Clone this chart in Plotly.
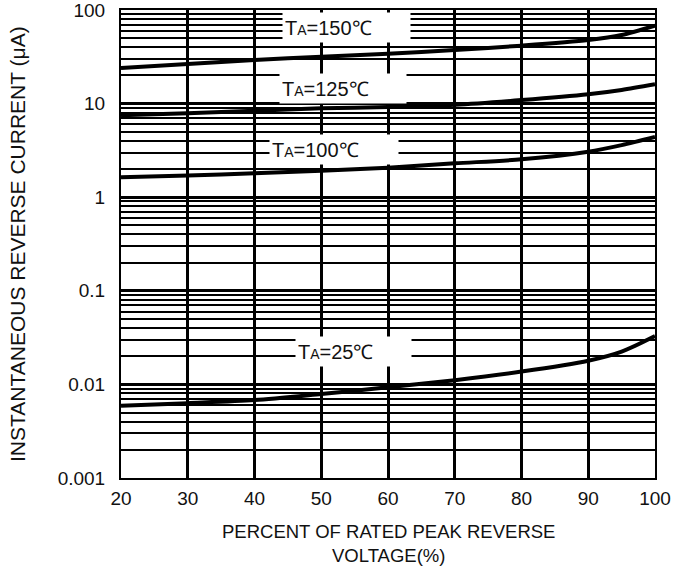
import plotly.graph_objects as go

# Percent of rated peak reverse voltage
voltage_pct = [20, 30, 40, 50, 60, 70, 80, 90, 95, 100]

# Instantaneous reverse current (uA) for each junction temperature
current_150c = [24.0, 26.5, 29.3, 31.7, 34.0, 37.4, 41.6, 47.7, 54.0, 68.0]
current_125c = [7.5, 7.9, 8.4, 8.9, 9.2, 9.7, 10.9, 12.6, 14.0, 16.1]
current_100c = [1.63, 1.71, 1.80, 1.92, 2.07, 2.30, 2.54, 3.06, 3.6, 4.4]
current_25c = [0.0059, 0.0063, 0.0068, 0.0079, 0.0093, 0.0111, 0.0137, 0.0179, 0.0224, 0.0329]

series_labels = ["150", "125", "100", "25"]

y_tick_vals = [0.001, 0.01, 0.1, 1, 10, 100]
y_tick_text = ["0.001", "0.01", "0.1", "1", "10", "100"]
y_minor_vals = [k * 10.0 ** e for e in range(-3, 2) for k in range(2, 10)]

FONT = "Liberation Sans, Arial, sans-serif"

fig = go.Figure()
for ys in (current_150c, current_125c, current_100c, current_25c):
    fig.add_trace(go.Scatter(
        x=voltage_pct, y=ys, mode="lines",
        line=dict(color="black", width=4, shape="spline", smoothing=0.8),
        showlegend=False, hoverinfo="skip",
    ))

# Temperature labels on white boxes: (x, log10 y, box width)
label_pos = [(53.8, 1.815, 133), (53.3, 1.165, 132), (51.9, 0.51, 134), (54.8, -1.645, 121)]
for name, (lx, ly, w) in zip(series_labels, label_pos):
    fig.add_annotation(
        x=lx, y=ly, xref="x", yref="y",
        text="T<span style='font-size:14px'>A</span>=" + name + "\u2103",
        showarrow=False, bgcolor="white", width=w - 10, height=25,
        borderpad=2, align="left", xanchor="center", yanchor="middle",
        font=dict(family=FONT, size=20, color="#111"),
    )

# Axis titles
fig.add_annotation(
    x=(17 - 121) / 534, y=0.5, xref="paper", yref="paper",
    xanchor="center", yanchor="middle",
    text="INSTANTANEOUS REVERSE CURRENT (\u03bcA)", textangle=-90, showarrow=False,
    font=dict(family=FONT, size=21, color="#111"),
)
fig.add_annotation(
    x=0.5, y=-0.088, xref="paper", yref="paper", xanchor="center", yanchor="top",
    text="PERCENT OF RATED PEAK REVERSE<br>VOLTAGE(%)", showarrow=False,
    font=dict(family=FONT, size=18.5, color="#111"),
)

fig.update_xaxes(
    range=[20, 100], dtick=10, tick0=20, automargin=False,
    showgrid=True, gridcolor="black", gridwidth=2.5,
    showline=True, linecolor="black", linewidth=2, mirror=True,
    ticks="", ticklabelstandoff=2, zeroline=False, ticklabeloverflow="allow",
    tickfont=dict(family=FONT, size=19, color="#111"),
)
fig.update_yaxes(
    type="log", range=[-3, 2], tickvals=y_tick_vals, ticktext=y_tick_text,
    automargin=False, ticklabeloverflow="allow",
    showgrid=True, gridcolor="black", gridwidth=2.5,
    minor=dict(tickvals=y_minor_vals, showgrid=True, gridcolor="black", gridwidth=2),
    showline=True, linecolor="black", linewidth=2, mirror=True,
    ticks="", ticklabelstandoff=10, zeroline=False,
    tickfont=dict(family=FONT, size=19, color="#111"),
)

fig.update_layout(
    width=690, height=574,
    margin=dict(l=121, r=35, t=10, b=96),
    plot_bgcolor="white", paper_bgcolor="white",
)

fig.write_html("out.html")
